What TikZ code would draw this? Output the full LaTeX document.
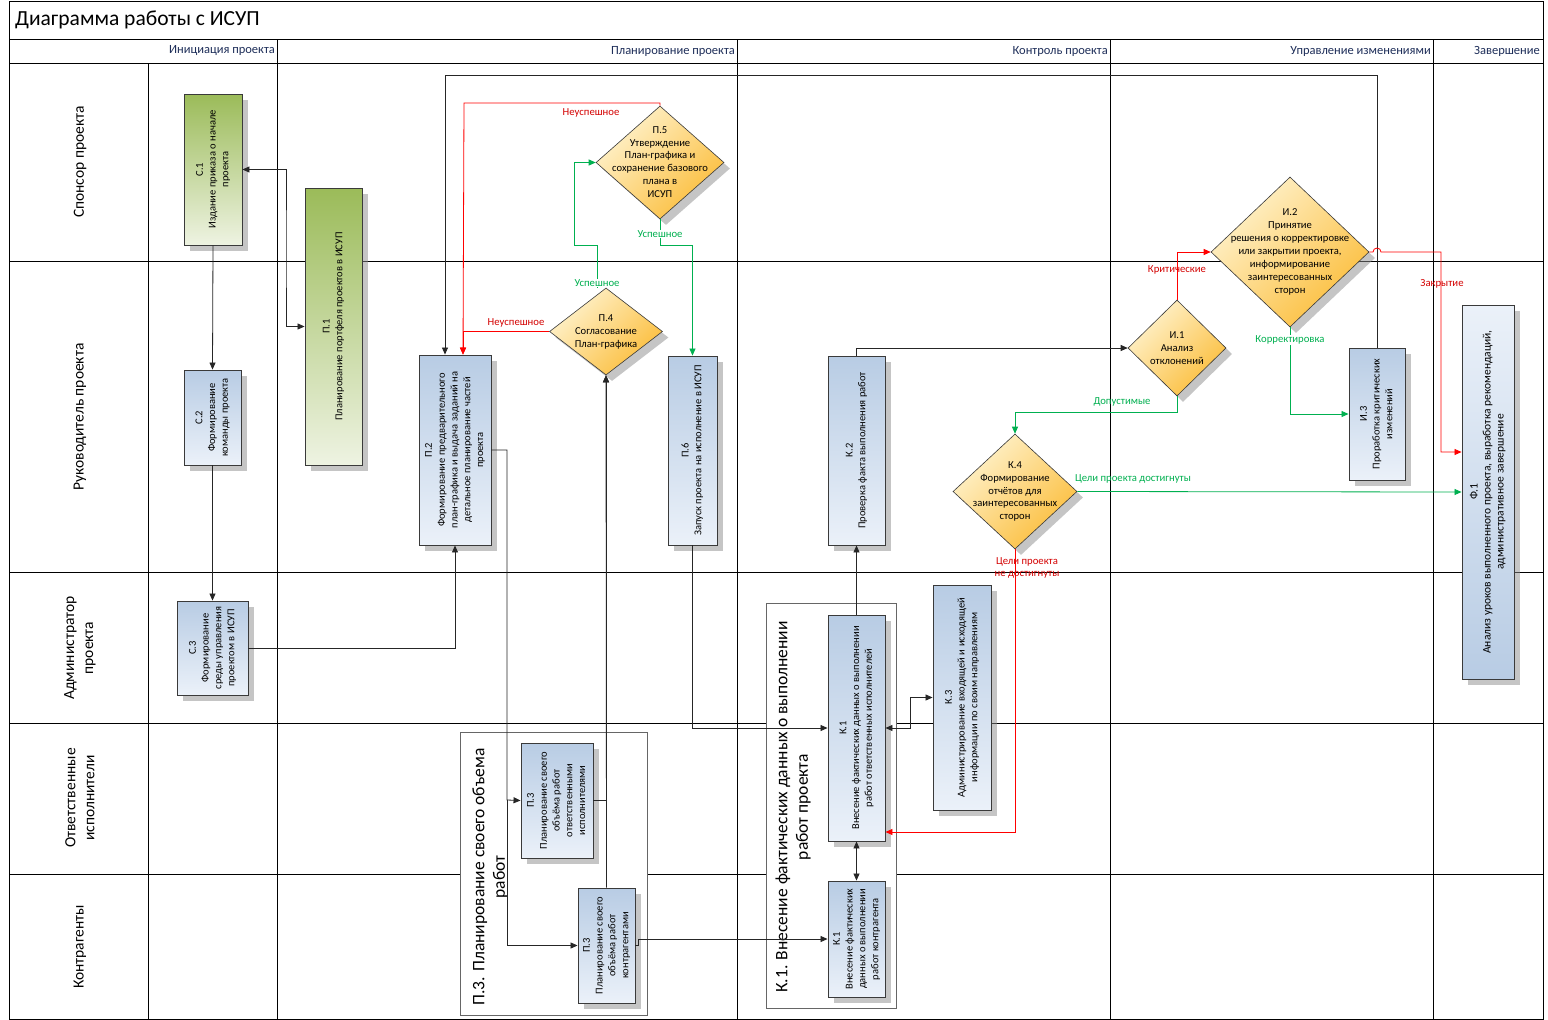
\documentclass[tikz,border=0pt]{standalone}
\usepackage{fontspec}
\setmainfont{Carlito}
\usetikzlibrary{shapes.geometric,shadows,arrows.meta}
\definecolor{bltop}{HTML}{B8CCE4}
\definecolor{blbot}{HTML}{EBF1F9}
\definecolor{grtop}{HTML}{9BBB59}
\definecolor{grbot}{HTML}{EEF3E2}
\definecolor{dlight}{HTML}{FFF3CF}
\definecolor{ddark}{HTML}{FBBD3A}
\definecolor{gline}{HTML}{00B050}
\definecolor{rline}{HTML}{FF0000}
\definecolor{rtext}{HTML}{D40000}
\definecolor{boxdraw}{HTML}{3A3A3A}
\definecolor{hdrtext}{HTML}{1F2F5A}
\newcommand{\rtx}[1]{\rotatebox{90}{\begin{tabular}{@{}c@{}}#1\end{tabular}}}
\begin{document}
\begin{tikzpicture}[x=1pt,y=-1pt,
  grid/.style={draw=black,line width=0.9pt},
  shd/.style={drop shadow={shadow xshift=6pt,shadow yshift=-6pt,fill=black!45,opacity=0.5}},
  pbox/.style={shd,draw=boxdraw,line width=0.9pt,inner sep=0pt,font=\fontsize{10.5}{12.8}\selectfont},
  bbox/.style={pbox,top color=bltop,bottom color=blbot},
  gbox/.style={pbox,top color=grtop,bottom color=grbot},
  fbox/.style={pbox,top color=blbot,bottom color=bltop,font=\fontsize{11.5}{13}\selectfont},
  dia/.style={diamond,shd,draw=boxdraw,line width=0.6pt,inner sep=0pt,top color=dlight,bottom color=ddark,shading angle=45},
  dtxt/.style={align=center,inner sep=0pt,font=\fontsize{10.6}{12.9}\selectfont},
  grp/.style={draw=black!60,fill=white,line width=0.8pt,inner sep=0pt},
  grpt/.style={rotate=90,align=center,inner sep=0pt,font=\fontsize{17.5}{20.5}\selectfont},
  lane/.style={rotate=90,align=center,inner sep=0pt,font=\fontsize{15.5}{19}\selectfont},
  hdr/.style={anchor=east,inner sep=0pt,text=hdrtext,font=\fontsize{12.5}{14}\selectfont},
  elab/.style={inner sep=1pt,font=\fontsize{10.7}{12.8}\selectfont},
  tip/.style={-{Triangle[length=7pt,width=6pt]}},
  conn/.style={draw=black!85,line width=0.8pt,tip},
  dconn/.style={draw=black!85,line width=0.8pt,{Triangle[length=7pt,width=6pt]}-{Triangle[length=7pt,width=6pt]}},
  rconn/.style={draw=rline,line width=0.8pt,tip},
  gconn/.style={draw=gline,line width=0.8pt,tip}]
\useasboundingbox (0,0) rectangle (1548,1020);
\fill[white] (0,0) rectangle (1548,1020);
% ---------- swimlane grid ----------
\draw[grid] (9,1) rectangle (1543,1019);
\draw[grid] (9,39) -- (1543,39);
\draw[grid] (9,63) -- (1543,63);
\foreach \yy in {261,572,723,874} \draw[grid] (9,\yy) -- (1543,\yy);
\draw[grid] (148,63) -- (148,1019);
\foreach \xx in {277,737,1110,1433} \draw[grid] (\xx,39) -- (\xx,1019);
\node[anchor=west,inner sep=0pt,font=\fontsize{21.5}{25}\selectfont] (title) at (15,20) {Диаграмма работы с ИСУП};
\node[hdr] (h1) at (275,51) {Инициация проекта};
\node[hdr] (h2) at (735,51) {Планирование проекта};
\node[hdr] (h3) at (1108,51) {Контроль проекта};
\node[hdr] (h4) at (1431,51) {Управление изменениями};
\node[hdr] (h5) at (1540,51) {Завершение};
\node[lane] (l1) at (80,162) {Спонсор проекта};
\node[lane] (l2) at (80,417) {Руководитель проекта};
\node[lane] (l3) at (80,648) {Администратор\\проекта};
\node[lane] (l4) at (80,798) {Ответственные\\исполнители};
\node[lane] (l5) at (80,947) {Контрагенты};
% ---------- groups ----------
\node[grp,minimum width=130pt,minimum height=405pt] (G1) at (831,805.5) {};
\node[grpt] (G1t) at (793,807) {К.1. Внесение фактических данных о выполнении\\работ проекта};
\node[grp,minimum width=187pt,minimum height=283pt] (G2) at (553.5,873.5) {};
\node[grpt] (G2t) at (490,877) {П.3. Планирование своего объема\\работ};
% ---------- process boxes ----------
\node[gbox,minimum width=58pt,minimum height=151pt] (C1) at (213,169.5) {\rtx{С.1\\Издание приказа о начале\\проекта}};
\node[gbox,minimum width=57pt,minimum height=277pt] (P1) at (333.5,326.5) {\rtx{П.1\\Планирование портфеля проектов в ИСУП}};
\node[bbox,minimum width=57pt,minimum height=95pt] (C2) at (212.5,417.5) {\rtx{С.2\\Формирование\\команды проекта}};
\node[bbox,minimum width=71pt,minimum height=94pt] (C3) at (212.5,648) {\rtx{С.3\\Формирование\\среды управления\\проектом в ИСУП}};
\node[bbox,minimum width=72pt,minimum height=190pt] (P2) at (455,450) {\rtx{П.2\\Формирование предварительного\\план-графика и выдача заданий на\\детальное планирование частей\\проекта}};
\node[bbox,minimum width=49pt,minimum height=189pt] (P6) at (692.5,450.5) {\rtx{П.6\\Запуск проекта на исполнение в ИСУП}};
\node[bbox,minimum width=57pt,minimum height=189pt] (K2) at (856.5,450.5) {\rtx{К.2\\Проверка факта выполнения работ}};
\node[bbox,minimum width=56pt,minimum height=132pt] (I3) at (1377,414) {\rtx{И.3\\Проработка критических\\изменений}};
\node[fbox,minimum width=52pt,minimum height=374pt] (F1) at (1488,492) {\rtx{Ф.1\\Анализ уроков выполненного проекта, выработка рекомендаций,\\административное завершение}};
\node[bbox,minimum width=57pt,minimum height=226pt] (K1a) at (856.5,728) {\rtx{К.1\\Внесение фактических данных о выполнении\\работ ответственных исполнителей}};
\node[bbox,minimum width=57pt,minimum height=116pt] (K1b) at (856.5,939) {\rtx{К.1\\Внесение фактических\\данных о выполнении\\работ контрагента}};
\node[bbox,minimum width=58pt,minimum height=225pt] (K3) at (962,697.5) {\rtx{К.3\\Администрирование входящей и исходящей\\информации по своим направлениям}};
\node[bbox,minimum width=72pt,minimum height=115pt] (P3a) at (557,800.5) {\rtx{П.3\\Планирование своего\\объёма работ\\ответственными\\исполнителями}};
\node[bbox,minimum width=57pt,minimum height=115pt] (P3b) at (606.5,945.5) {\rtx{П.3\\Планирование своего\\объёма работ\\контрагентами}};
% ---------- decisions ----------
\node[dia,minimum width=113pt,minimum height=87pt] (P4) at (606,331.5) {};
\node[dtxt] (P4t) at (606,332) {П.4\\Согласование\\План-графика};
\node[dia,minimum width=128pt,minimum height=113pt] (P5) at (660,162.5) {};
\node[dtxt] (P5t) at (660,162) {П.5\\Утверждение\\План-графика и\\сохранение базового\\плана в\\ИСУП};
\node[dia,minimum width=98pt,minimum height=96pt] (I1) at (1177,348) {};
\node[dtxt] (I1t) at (1177,348) {И.1\\Анализ\\отклонений};
\node[dia,minimum width=158pt,minimum height=150pt] (I2) at (1290,252) {};
\node[dtxt] (I2t) at (1290,252) {И.2\\Принятие\\решения о корректировке\\или закрытии проекта,\\информирование\\заинтересованных\\сторон};
\node[dia,minimum width=124pt,minimum height=115pt] (K4) at (1015,491.5) {};
\node[dtxt] (K4t) at (1015,491.5) {К.4\\Формирование\\отчётов для\\заинтересованных\\сторон};
% ---------- connector bends ----------
\coordinate (topR) at (1377,75);
\coordinate (topL) at (445,75);
% ---------- black connectors ----------
\draw[conn] (C1.south) -- (C2.north);
\draw[conn] (C2.south) -- (C3.north);
\draw[dconn] (C1.east) -| (286,250) |- (P1.west);
\draw[conn] (C3.east) -| (P2.south);
\draw[conn] (I3.north) -- (topR) -- (topL) -- ([xshift=-10pt]P2.north);
\draw[conn] (P2.east) -| (507,800) -- (P3a.west);
\draw[conn] (507,800) |- (P3b.west);
\draw[conn] (P3a.east) -| (P4.south);
\draw[conn] (P3b.north) -- (P4.south);
\draw[conn] (P3b.east) -- ++(3,0) |- (K1b.west);
\draw[conn] (P6.south) |- (K1a.west);
\draw[conn] (K1a.north) -- (K2.south);
\draw[conn] (K2.north) |- (I1.west);
\draw[dconn] (K1a.south) -- (K1b.north);
\draw[dconn] (K1a.east) -- ++(25,0) |- (K3.west);
% ---------- red connectors ----------
\draw[rconn] (P5.north) |- (464,103) -- ([xshift=8pt]P2.north);
\draw[rconn] (P4.west) -| ([xshift=8pt]P2.north);
\draw[rconn] (I1.north) |- (I2.west);
\draw[rconn] (I2.east) -- (1373,252) arc[start angle=180,end angle=0,radius=4pt] -- (1441,252) |- ([yshift=40pt]F1.west);
\draw[rconn] (K4.south) |- ([yshift=-104pt]K1a.east);
% ---------- green connectors ----------
\draw[gconn] ([xshift=-9pt]P4.north) |- (574,245) |- (P5.west);
\draw[gconn] (P5.south) |- (692.5,245) -- (P6.north);
\draw[gconn] (I1.south) -- ++(0,16) -| (K4.north);
\draw[gconn] (I2.south) |- (I3.west);
\draw[gconn] (K4.east) -- (F1.west);
% ---------- connector labels ----------
\node[elab,text=rtext] (n1) at (591,113) {Неуспешное};
\node[elab,text=rtext] (n2) at (516,323) {Неуспешное};
\node[elab,text=gline,fill=white] (s1) at (597,283) {Успешное};
\node[elab,text=gline,fill=white] (s2) at (660,234) {Успешное};
\node[elab,text=rtext] (kr) at (1177,270) {Критические};
\node[elab,text=gline] (dp) at (1122,402) {Допустимые};
\node[elab,text=gline,fill=white] (ko) at (1290,340) {Корректировка};
\node[elab,text=rtext] (za) at (1442,284) {Закрытие};
\node[elab,text=gline] (cd) at (1133,479) {Цели проекта достигнуты};
\node[elab,text=rtext,align=center] (cn) at (1027,568) {Цели проекта\\не достигнуты};
\end{tikzpicture}
\end{document}
